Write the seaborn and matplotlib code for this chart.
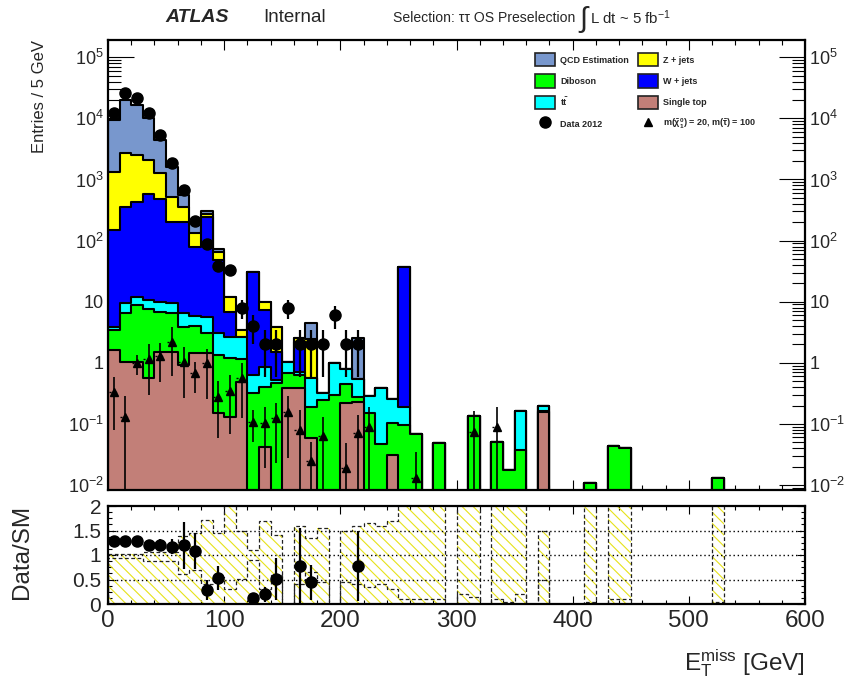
import numpy as np
import pandas as pd
import matplotlib
matplotlib.use("Agg")
import matplotlib.pyplot as plt
from matplotlib.patches import Patch
from matplotlib.lines import Line2D
from matplotlib.ticker import (MultipleLocator, LogLocator, FixedLocator,
                               FixedFormatter, NullFormatter)
import seaborn as sns

# E_T^miss binning: 10 GeV bins from 0 to 600 GeV
met_edges = list(range(0, 610, 10))

# Expected yields per bin for each background (stacked bottom -> top)
single_top = [1.62, 1.04, 1.04, 0.56, 1.52, 1.52, 0.92, 1.43, 1.43, 0.149,
              0.131, 0.49, 0, 0.042, 0, 0.383, 0.383, 0.058, 0, 0,
              0.217, 0.231, 0, 0, 0.031, 0, 0, 0, 0, 0,
              0, 0, 0, 0, 0, 0, 0, 0.155, 0, 0,
              0, 0, 0, 0, 0, 0, 0, 0, 0, 0,
              0, 0, 0, 0, 0, 0, 0, 0, 0, 0]
diboson = [1.82, 5.57, 7.79, 6.95, 5.34, 5.09, 2.98, 2.57, 1.61, 1.19,
           1.06, 0.65, 0.317, 0.364, 0.462, 0.306, 0.248, 0.133, 0.246, 0.297,
           0.228, 0.048, 0.149, 0.047, 0.074, 0.096, 0.068, 0, 0.048, 0,
           0, 0.135, 0, 0.050, 0.0176, 0.038, 0, 0.009, 0, 0,
           0, 0.0109, 0, 0.044, 0.040, 0, 0, 0, 0, 0,
           0, 0, 0.0132, 0, 0, 0, 0, 0, 0, 0]
ttbar = [0.46, 2.81, 2.97, 3.19, 3.14, 2.81, 2.71, 1.83, 2.65, 1.77,
         1.48, 1.53, 0.314, 0.457, 0.061, 0.351, 0.083, 0.366, 0.071, 0.70,
         0.338, 0.258, 0.137, 0.344, 0.148, 0.095, 0, 0, 0, 0,
         0, 0, 0, 0, 0, 0.126, 0, 0.035, 0, 0,
         0, 0, 0, 0, 0, 0, 0, 0, 0, 0,
         0, 0, 0, 0, 0, 0, 0, 0, 0, 0]
wjets = [145, 350, 421, 562, 464, 195, 197, 73.6, 240, 45.0,
         4.19, 0, 30.4, 6.45, 1.0, 0, 1.49, 0, 0, 0,
         0, 0, 0, 0, 0, 36.4, 0, 0, 0, 0,
         0, 0, 0, 0, 0, 0, 0, 0, 0, 0,
         0, 0, 0, 0, 0, 0, 0, 0, 0, 0,
         0, 0, 0, 0, 0, 0, 0, 0, 0, 0]
zjets = [1193, 2326, 2085, 1512, 788, 319, 155, 52.2, 26, 17.7,
         5.2, 0.77, 0, 2.69, 2.38, 0, 0.35, 1.87, 0, 0,
         0, 0, 0, 0, 0, 0, 0, 0, 0, 0,
         0, 0, 0, 0, 0, 0, 0, 0, 0, 0,
         0, 0, 0, 0, 0, 0, 0, 0, 0, 0,
         0, 0, 0, 0, 0, 0, 0, 0, 0, 0]
qcd = [8074, 17315, 14042, 7955, 3168, 1097, 199, 60.4, 36, 6.3,
       0, 0, 0, 0, 0, 0, 0, 2.1, 0, 0,
       0, 2.04, 0, 0, 0, 0, 0, 0, 0, 0,
       0, 0, 0, 0, 0, 0, 0, 0, 0, 0,
       0, 0, 0, 0, 0, 0, 0, 0, 0, 0,
       0, 0, 0, 0, 0, 0, 0, 0, 0, 0]

# Observed events (2012 data)
data_2012 = [12200, 25900, 21400, 12100, 5350, 1890, 670, 208, 88, 38,
             33, 8, 4, 2, 2, 8, 2, 2, 2, 6,
             2, 2, 0, 0, 0, 0, 0, 0, 0, 0,
             0, 0, 0, 0, 0, 0, 0, 0, 0, 0,
             0, 0, 0, 0, 0, 0, 0, 0, 0, 0,
             0, 0, 0, 0, 0, 0, 0, 0, 0, 0]

# Signal point m(chi1^0) = 20, m(stau) = 100 and its uncertainty
signal = [0.329, 0.131, 0.98, 1.15, 1.29, 2.21, 1.04, 0.673, 0.98, 0.279,
          0.349, 0.557, 0.109, 0.104, 0.123, 0.158, 0.079, 0.025, 0.063, 0,
          0.019, 0.070, 0.088, 0, 0, 0, 0.0132, 0, 0, 0,
          0, 0.075, 0, 0.088, 0, 0, 0, 0, 0, 0,
          0, 0, 0, 0, 0, 0, 0, 0, 0, 0,
          0, 0, 0, 0, 0, 0, 0, 0, 0, 0]
signal_err = [0.25, 0.15, 0.35, 0.85, 0.8, 1.6, 0.77, 0.35, 0.72, 0.22,
              0.28, 0.43, 0.058, 0.085, 0.1, 0.13, 0.09, 0.026, 0.065, 0,
              0.03, 0.07, 0.1, 0, 0, 0, 0.022, 0, 0, 0,
              0, 0.09, 0, 0.1, 0, 0, 0, 0, 0, 0,
              0, 0, 0, 0, 0, 0, 0, 0, 0, 0,
              0, 0, 0, 0, 0, 0, 0, 0, 0, 0]

# Uncertainty on the Data/SM ratio points
ratio_err = [0.03, 0.03, 0.03, 0.10, 0.12, 0.15, 0.48, 0.37, 0.20, 0.25,
             0, 0, 0.10, 0.15, 0.43, 0, 0.77, 0.35, 0, 0,
             0, 0.72, 0, 0, 0, 0, 0, 0, 0, 0,
             0, 0, 0, 0, 0, 0, 0, 0, 0, 0,
             0, 0, 0, 0, 0, 0, 0, 0, 0, 0,
             0, 0, 0, 0, 0, 0, 0, 0, 0, 0]

# Relative SM uncertainty band (upper / lower edge)
band_up = [1.03, 1.03, 1.03, 1.06, 1.06, 1.06, 1.39, 1.45, 1.72, 1.45,
           2.5, 1.48, 1.1, 1.7, 1.4, 0, 1.6, 1.35, 1.55, 0,
           1.5, 1.6, 1.65, 1.6, 1.7, 2.5, 2.5, 2.5, 2.5, 0,
           2.5, 2.5, 0, 2.5, 2.5, 2.5, 0, 1.5, 0, 0,
           0, 2.5, 0, 2.5, 2.5, 0, 0, 0, 0, 0,
           0, 0, 2.5, 0, 0, 0, 0, 0, 0, 0]
band_dn = [0.93, 0.93, 0.93, 0.88, 0.88, 0.88, 0.62, 0.70, 0.40, 0.55,
           0.30, 0.52, 0.90, 0.30, 0.60, 0, 0.40, 0.65, 0.45, 0,
           0.45, 0.40, 0.35, 0.40, 0.30, 0.10, 0.10, 0.10, 0.10, 0,
           0.20, 0.15, 0, 0.10, 0.05, 0.20, 0, 0.50, 0, 0,
           0, 0.05, 0, 0.10, 0.10, 0, 0, 0, 0, 0,
           0, 0, 0.05, 0, 0, 0, 0, 0, 0, 0]

process_colors = ["#c27f78", "#00ff00", "#00ffff", "#0000ff", "#ffff00", "#7897cd"]

sns.set_style("ticks")
plt.rcParams["font.family"] = ["Liberation Sans", "DejaVu Sans"]
plt.rcParams["mathtext.default"] = "regular"
plt.rcParams["hatch.linewidth"] = 0.8
plt.rcParams["hatch.color"] = "#e6e21a"

W, H = 850, 685
fig = plt.figure(figsize=(W / 100, H / 100), dpi=100)
ax = fig.add_axes([108 / W, 195 / H, 697 / W, 450 / H])
rax = fig.add_axes([108 / W, 81 / H, 697 / W, 98 / H])

edges = np.array(met_edges, dtype=float)
centers = edges[:-1] + 5.0
stack = np.cumsum(np.array([single_top, diboson, ttbar, wjets, zjets, qcd], dtype=float), axis=0)

# Stacked backgrounds: draw cumulative histograms from the top down
for k in reversed(range(stack.shape[0])):
    layer = pd.DataFrame({"met": centers, "yield": stack[k]})
    sns.histplot(data=layer, x="met", weights="yield", bins=met_edges, element="step",
                 fill=True, color=process_colors[k], alpha=1.0,
                 edgecolor="black", linewidth=1.5, ax=ax)

data = np.array(data_2012, dtype=float)
sig = np.array(signal, dtype=float)
sig_e = np.array(signal_err, dtype=float)

sm = sig > 0
ax.errorbar(centers[sm], sig[sm], yerr=sig_e[sm], fmt="^", color="black",
            ms=6, elinewidth=1.2, capsize=0, zorder=4)
ax.hlines(sig[sm], centers[sm] - 4.5, centers[sm] + 4.5, colors="black",
          linestyles=(0, (1.5, 2.5)), linewidth=1.0, zorder=4)

has = data > 0
ax.errorbar(centers[has], data[has], yerr=np.sqrt(data[has]), fmt="o",
            color="black", ms=8, elinewidth=1.6, capsize=0, zorder=5)

ax.set_yscale("log", nonpositive="clip")
ax.set_xlim(0, 600)
ax.set_ylim(10 ** -2.0818, 10 ** 5.283)
decades = [1e-2, 1e-1, 1, 10, 1e2, 1e3, 1e4, 1e5]
ax.yaxis.set_major_locator(FixedLocator(decades))
ax.yaxis.set_major_formatter(FixedFormatter(
    ["10$^{-2}$", "10$^{-1}$", "1", "10", "10$^{2}$", "10$^{3}$", "10$^{4}$", "10$^{5}$"]))
ax.yaxis.set_minor_locator(LogLocator(base=10, subs=np.arange(2, 10), numticks=40))
ax.yaxis.set_minor_formatter(NullFormatter())
ax.xaxis.set_major_locator(MultipleLocator(100))
ax.xaxis.set_minor_locator(MultipleLocator(20))
ax.tick_params(axis="both", which="both", direction="in", top=True, right=True,
               labelbottom=False, labelright=True, width=0.8, color="black")
ax.tick_params(axis="y", which="major", length=18.5, labelsize=13, pad=3)
ax.tick_params(axis="y", which="minor", length=9.3)
ax.tick_params(axis="x", which="major", length=7.5)
ax.tick_params(axis="x", which="minor", length=3.8)
ax.set_xlabel("")
ax.set_ylabel("")

# Ratio panel
total = stack[-1]
ratio = np.where(total > 0, data / np.where(total > 0, total, 1.0), np.nan)
r_err = np.array(ratio_err, dtype=float)
up = np.array(band_up, dtype=float)
dn = np.array(band_dn, dtype=float)

rax.fill_between(edges, 0, np.append(up, up[-1]), step="post",
                 facecolor="none", edgecolor="#e6e21a", hatch="\\\\\\",
                 linewidth=0, zorder=1)
rax.stairs(up, edges, color="#222222", linestyle=(0, (3, 2)), linewidth=0.9, zorder=2)
rax.stairs(dn, edges, color="#222222", linestyle=(0, (3, 2)), linewidth=0.9, zorder=2)
for yv in (0.5, 1.0, 1.5):
    rax.axhline(yv, color="black", linestyle=(0, (1, 2)), linewidth=1.0, zorder=2)

show = has & (ratio <= 2)
rax.errorbar(centers[show], ratio[show], yerr=r_err[show], fmt="o", color="black",
             ms=8, elinewidth=1.6, capsize=0, zorder=5)

rax.set_xlim(0, 600)
rax.set_ylim(0, 2)
rax.xaxis.set_major_locator(MultipleLocator(100))
rax.xaxis.set_minor_locator(MultipleLocator(20))
rax.set_yticks([0, 0.5, 1, 1.5, 2], labels=["0", "0.5", "1", "1.5", "2"])
rax.yaxis.set_minor_locator(MultipleLocator(0.125))
rax.tick_params(axis="both", which="both", direction="in", top=True, right=True,
                width=0.8, color="black")
rax.tick_params(axis="x", which="major", labelsize=17.5, pad=4.5)
rax.tick_params(axis="y", which="major", labelsize=15, pad=5)
rax.tick_params(axis="both", which="major", length=5.5)
rax.tick_params(axis="both", which="minor", length=2.8)

for a in (ax, rax):
    for s in a.spines.values():
        s.set_linewidth(1.6)
        s.set_color("black")
        s.set_visible(True)

# Legend
handles = [
    Patch(facecolor=process_colors[5], edgecolor="#222222", linewidth=1.2),
    Patch(facecolor=process_colors[1], edgecolor="#222222", linewidth=1.2),
    Patch(facecolor=process_colors[2], edgecolor="#222222", linewidth=1.2),
    Line2D([], [], marker="o", color="black", linestyle="none", ms=8),
    Patch(facecolor=process_colors[4], edgecolor="#222222", linewidth=1.2),
    Patch(facecolor=process_colors[3], edgecolor="#222222", linewidth=1.2),
    Patch(facecolor=process_colors[0], edgecolor="#222222", linewidth=1.2),
    Line2D([], [], marker="^", color="black", linestyle="none", ms=6),
]
labels = ["QCD Estimation", "Diboson", "t$\\bar{t}$", "Data 2012",
          "Z + jets", "W + jets", "Single top",
          "m($\\tilde{\\chi}^{0}_{1}$) = 20, m($\\tilde{\\tau}$) = 100"]
fs = 6.5
fpx = fs * 100 / 72
fig.legend(handles, labels, ncol=2, loc="upper left",
           bbox_to_anchor=(535 / W, 1 - 53 / H), bbox_transform=fig.transFigure,
           frameon=False, borderpad=0, borderaxespad=0,
           prop={"weight": "bold", "size": fs},
           handlelength=20 / fpx, handleheight=17 / fpx,
           labelspacing=8 / fpx, handletextpad=5 / fpx,
           columnspacing=9 / fpx)

# Header texts
fig.text(165 / W, 1 - 17 / H, "ATLAS", fontsize=14, fontweight="bold",
         style="italic", ha="left", va="center")
fig.text(263 / W, 1 - 17 / H, "Internal", fontsize=13.5, ha="left", va="center")
fig.text(393 / W, 1 - 18 / H, "Selection: ττ OS Preselection", fontsize=10.1,
         ha="left", va="center")
fig.text(583 / W, 1 - 19 / H, "∫", fontsize=21, ha="center", va="center")
fig.text(590 / W, 1 - 18 / H, "L dt ~ 5 fb$^{-1}$", fontsize=10.8, ha="left", va="center")

# Axis titles
fig.text(40 / W, 1 - 40 / H, "Entries / 5 GeV", rotation=90, fontsize=12,
         ha="center", va="top")
fig.text(22 / W, 1 - 552 / H, "Data/SM", rotation=90, fontsize=17.5,
         ha="center", va="center")
fig.text(805 / W, 1 - 663 / H, "E$_{T}^{miss}$ [GeV]", fontsize=17.5,
         ha="right", va="center")

fig.savefig("out.png", dpi=100)
